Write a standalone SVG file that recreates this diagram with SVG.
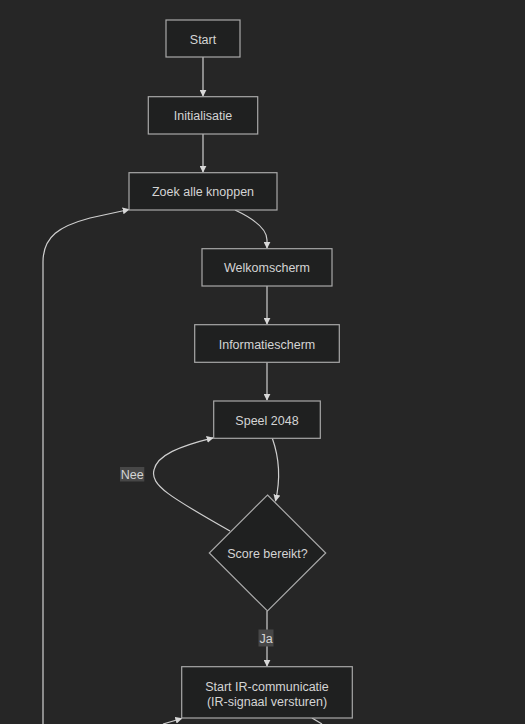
<svg xmlns="http://www.w3.org/2000/svg" width="525" height="724" viewBox="0 0 525 724">
<style>
.node rect,.node polygon{fill:#1f2020;stroke:#a8a8a8;stroke-width:1.2}
.node text{fill:#d4d4d4;font-family:"Trebuchet MS","Liberation Sans",sans-serif;font-size:12.5px;text-anchor:middle;dominant-baseline:central}
.edge{fill:none;stroke:#cfcfcf;stroke-width:1.2}
.lbl rect{fill:#474747}
.lbl text{fill:#d4d4d4;font-family:"Trebuchet MS","Liberation Sans",sans-serif;font-size:12.5px;text-anchor:middle;dominant-baseline:central}
</style>
<defs>
<marker id="arr" viewBox="0 0 10 10" refX="9" refY="5" markerWidth="7" markerHeight="7" markerUnits="userSpaceOnUse" orient="auto">
<path d="M0,0 L10,5 L0,10 z" fill="#d8d8d8"/>
</marker>
</defs>
<rect width="525" height="724" fill="#262626"/>
<g id="connectors">
<path class="edge" d="M203,57 L203,96" marker-end="url(#arr)"/>
<path class="edge" d="M203,134 L203,172" marker-end="url(#arr)"/>
<path class="edge" d="M235,210 Q267,225 267,240 L267,248" marker-end="url(#arr)"/>
<path class="edge" d="M267,286 L267,324" marker-end="url(#arr)"/>
<path class="edge" d="M267,362 L267,400" marker-end="url(#arr)"/>
<path class="edge" d="M272.3,438.3 C280,460 280,482 275.5,501" marker-end="url(#arr)"/>
<path class="edge" d="M230,531 C170,497 150,485 154,470 C157,455 180,446 213,437.8" marker-end="url(#arr)"/>
<path class="edge" d="M267,611 L267,666" marker-end="url(#arr)"/>
<path class="edge" d="M43,724 L43,262 C43,236 60,226 90,218 L129,209.5" marker-end="url(#arr)"/>
<path class="edge" d="M163,724 L181.7,718.5" marker-end="url(#arr)"/>
<path class="edge" d="M312,718 L322,724"/>
</g>
<g id="lbl-nee" class="lbl"><rect x="120" y="467" width="24.3" height="14.5"/><text x="132.2" y="474.5">Nee</text></g>
<g id="lbl-ja" class="lbl"><rect x="258.5" y="629.5" width="15" height="17"/><text x="266" y="638.5">Ja</text></g>
<g id="start" class="node"><rect x="166" y="20" width="74" height="37"/><text x="203" y="39.5">Start</text></g>
<g id="init" class="node"><rect x="148.3" y="96.7" width="109.4" height="37.3"/><text x="203" y="116.3">Initialisatie</text></g>
<g id="zoek" class="node"><rect x="129" y="172.7" width="148" height="37.3"/><text x="203" y="192.3">Zoek alle knoppen</text></g>
<g id="welkom" class="node"><rect x="202" y="248.7" width="130" height="37.3"/><text x="267" y="268.3">Welkomscherm</text></g>
<g id="info" class="node"><rect x="194.7" y="324.7" width="144.6" height="37.6"/><text x="267" y="344.5">Informatiescherm</text></g>
<g id="speel" class="node"><rect x="213.7" y="401" width="106.6" height="37.3"/><text x="267" y="420.7">Speel 2048</text></g>
<g id="score" class="node"><polygon points="267.5,495 325.7,553 267.5,611 209.3,553"/><text x="267.5" y="554">Score bereikt?</text></g>
<g id="ir" class="node"><rect x="181.7" y="666.7" width="170.6" height="51.3"/><text x="267" y="687">Start IR-communicatie</text><text x="267" y="701.5">(IR-signaal versturen)</text></g>
</svg>
